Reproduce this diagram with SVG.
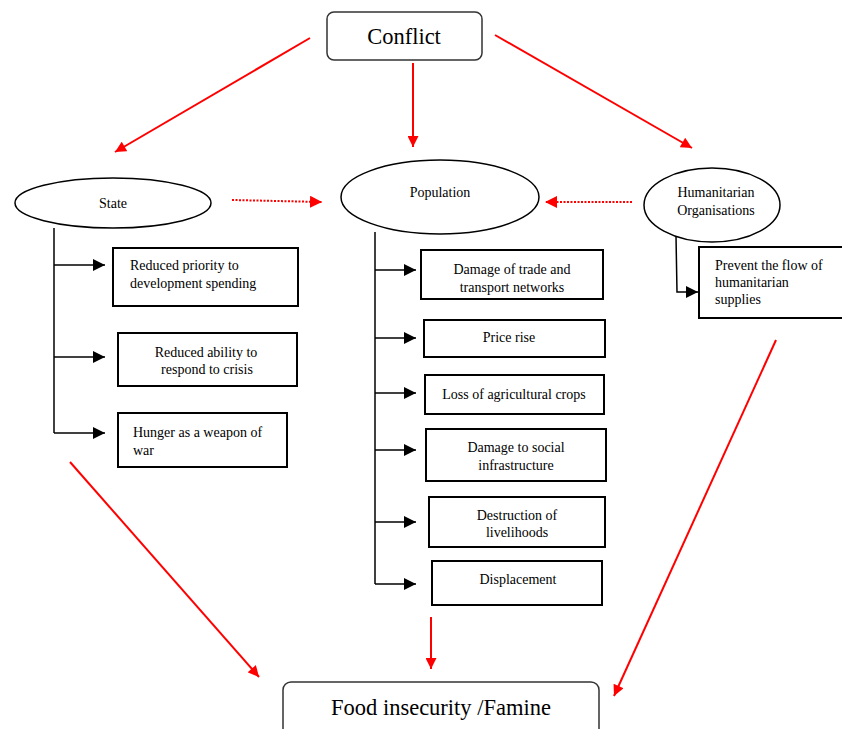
<svg xmlns="http://www.w3.org/2000/svg" width="842" height="729" viewBox="0 0 842 729">
<defs>
<marker id="ar" viewBox="0 0 10 10" refX="10" refY="5" markerWidth="6" markerHeight="5.5" orient="auto" markerUnits="strokeWidth"><path d="M0,0 L10,5 L0,10 z" fill="#ff0000"/></marker>
<marker id="ard" viewBox="0 0 10 10" refX="10" refY="5" markerWidth="6" markerHeight="6" orient="auto" markerUnits="strokeWidth"><path d="M0,0 L10,5 L0,10 z" fill="#ff0000"/></marker>
<marker id="ab" viewBox="0 0 10 10" refX="10" refY="5" markerWidth="8" markerHeight="8" orient="auto" markerUnits="strokeWidth"><path d="M0,0 L10,5 L0,10 z" fill="#000"/></marker>
</defs>
<style>
.t{font-family:"Liberation Serif","DejaVu Serif","Times New Roman",serif;fill:#000}
.s{font-size:14px}
.big{font-size:22.5px}
.box{fill:#fff;stroke:#000;stroke-width:2}
.rbox{fill:#fff;stroke:#333;stroke-width:1.5}
.el{fill:#fff;stroke:#000;stroke-width:1.5}
.red{stroke:#ff0000;stroke-width:2;fill:none;marker-end:url(#ar)}
.dot{stroke:#ff0000;stroke-width:2;stroke-dasharray:2 1.5;fill:none;marker-end:url(#ard)}
.blk{stroke:#000;stroke-width:1.5;fill:none}
.ba{stroke:#000;stroke-width:1.5;fill:none;marker-end:url(#ab)}
</style>
<rect width="842" height="729" fill="#fff"/>

<g id="connectors">
<line class="red" x1="310" y1="38" x2="115" y2="152"/>
<line class="red" x1="413" y1="63" x2="413" y2="147"/>
<line class="red" x1="495" y1="35" x2="692" y2="148"/>
<line class="dot" x1="232" y1="200" x2="322" y2="202"/>
<line class="dot" x1="632" y1="202" x2="545" y2="202"/>
<line class="red" x1="70" y1="462" x2="259" y2="677"/>
<line class="red" x1="431" y1="617" x2="431" y2="669"/>
<line class="red" x1="776" y1="340" x2="614" y2="696"/>
<polyline class="blk" points="54,228 54,433"/>
<line class="ba" x1="54" y1="265" x2="105" y2="265"/>
<line class="ba" x1="54" y1="357" x2="105" y2="357"/>
<line class="ba" x1="54" y1="433" x2="105" y2="433"/>
<polyline class="blk" points="375,232 375,584"/>
<line class="ba" x1="375" y1="270" x2="416" y2="270"/>
<line class="ba" x1="375" y1="338" x2="416" y2="338"/>
<line class="ba" x1="375" y1="393" x2="416" y2="393"/>
<line class="ba" x1="375" y1="450" x2="416" y2="450"/>
<line class="ba" x1="375" y1="522" x2="416" y2="522"/>
<line class="ba" x1="375" y1="584" x2="416" y2="584"/>
<polyline class="ba" points="676,236 677,292 698,292"/>
</g>

<g id="conflict">
<rect class="rbox" x="327" y="12" width="155" height="48" rx="7"/>
<text class="t big" x="404" y="44" text-anchor="middle">Conflict</text>
</g>

<g id="state">
<ellipse class="el" cx="113" cy="203" rx="98" ry="25"/>
<text class="t s" x="113" y="208" text-anchor="middle">State</text>
</g>

<g id="population">
<ellipse class="el" cx="440" cy="197" rx="99" ry="37"/>
<text class="t s" x="440" y="197" text-anchor="middle">Population</text>
</g>

<g id="humanitarian">
<ellipse class="el" cx="712" cy="205" rx="68" ry="37"/>
<text class="t s" x="716" y="197" text-anchor="middle">Humanitarian</text>
<text class="t s" x="716" y="215" text-anchor="middle">Organisations</text>
</g>

<g id="s1">
<rect class="box" x="113" y="248" width="185" height="58"/>
<text class="t s" x="130" y="270">Reduced priority to</text>
<text class="t s" x="130" y="288">development spending</text>
</g>
<g id="s2">
<rect class="box" x="118" y="333" width="179" height="53"/>
<text class="t s" x="206" y="357" text-anchor="middle">Reduced ability to</text>
<text class="t s" x="207" y="374" text-anchor="middle">respond to crisis</text>
</g>
<g id="s3">
<rect class="box" x="118" y="413" width="169" height="54"/>
<text class="t s" x="133" y="437">Hunger as a weapon of</text>
<text class="t s" x="133" y="455">war</text>
</g>

<g id="p1">
<rect class="box" x="421" y="250" width="182" height="49"/>
<text class="t s" x="512" y="274" text-anchor="middle">Damage of trade and</text>
<text class="t s" x="512" y="292" text-anchor="middle">transport networks</text>
</g>
<g id="p2">
<rect class="box" x="424" y="320" width="181" height="37"/>
<text class="t s" x="509" y="342" text-anchor="middle">Price rise</text>
</g>
<g id="p3">
<rect class="box" x="425" y="375" width="179" height="39"/>
<text class="t s" x="514" y="399" text-anchor="middle">Loss of agricultural crops</text>
</g>
<g id="p4">
<rect class="box" x="426" y="429" width="180" height="52"/>
<text class="t s" x="516" y="452" text-anchor="middle">Damage to social</text>
<text class="t s" x="516" y="470" text-anchor="middle">infrastructure</text>
</g>
<g id="p5">
<rect class="box" x="429" y="497" width="176" height="50"/>
<text class="t s" x="517" y="520" text-anchor="middle">Destruction of</text>
<text class="t s" x="517" y="537" text-anchor="middle">livelihoods</text>
</g>
<g id="p6">
<rect class="box" x="432" y="561" width="170" height="44"/>
<text class="t s" x="518" y="584" text-anchor="middle">Displacement</text>
</g>

<g id="h1">
<rect class="box" x="699" y="247" width="148" height="71"/>
<text class="t s" x="715" y="270">Prevent the flow of</text>
<text class="t s" x="715" y="287">humanitarian</text>
<text class="t s" x="715" y="304">supplies</text>
</g>

<g id="food">
<rect class="rbox" x="283" y="682" width="316" height="60" rx="8"/>
<text class="t big" x="441" y="715" text-anchor="middle">Food insecurity /Famine</text>
</g>
</svg>
